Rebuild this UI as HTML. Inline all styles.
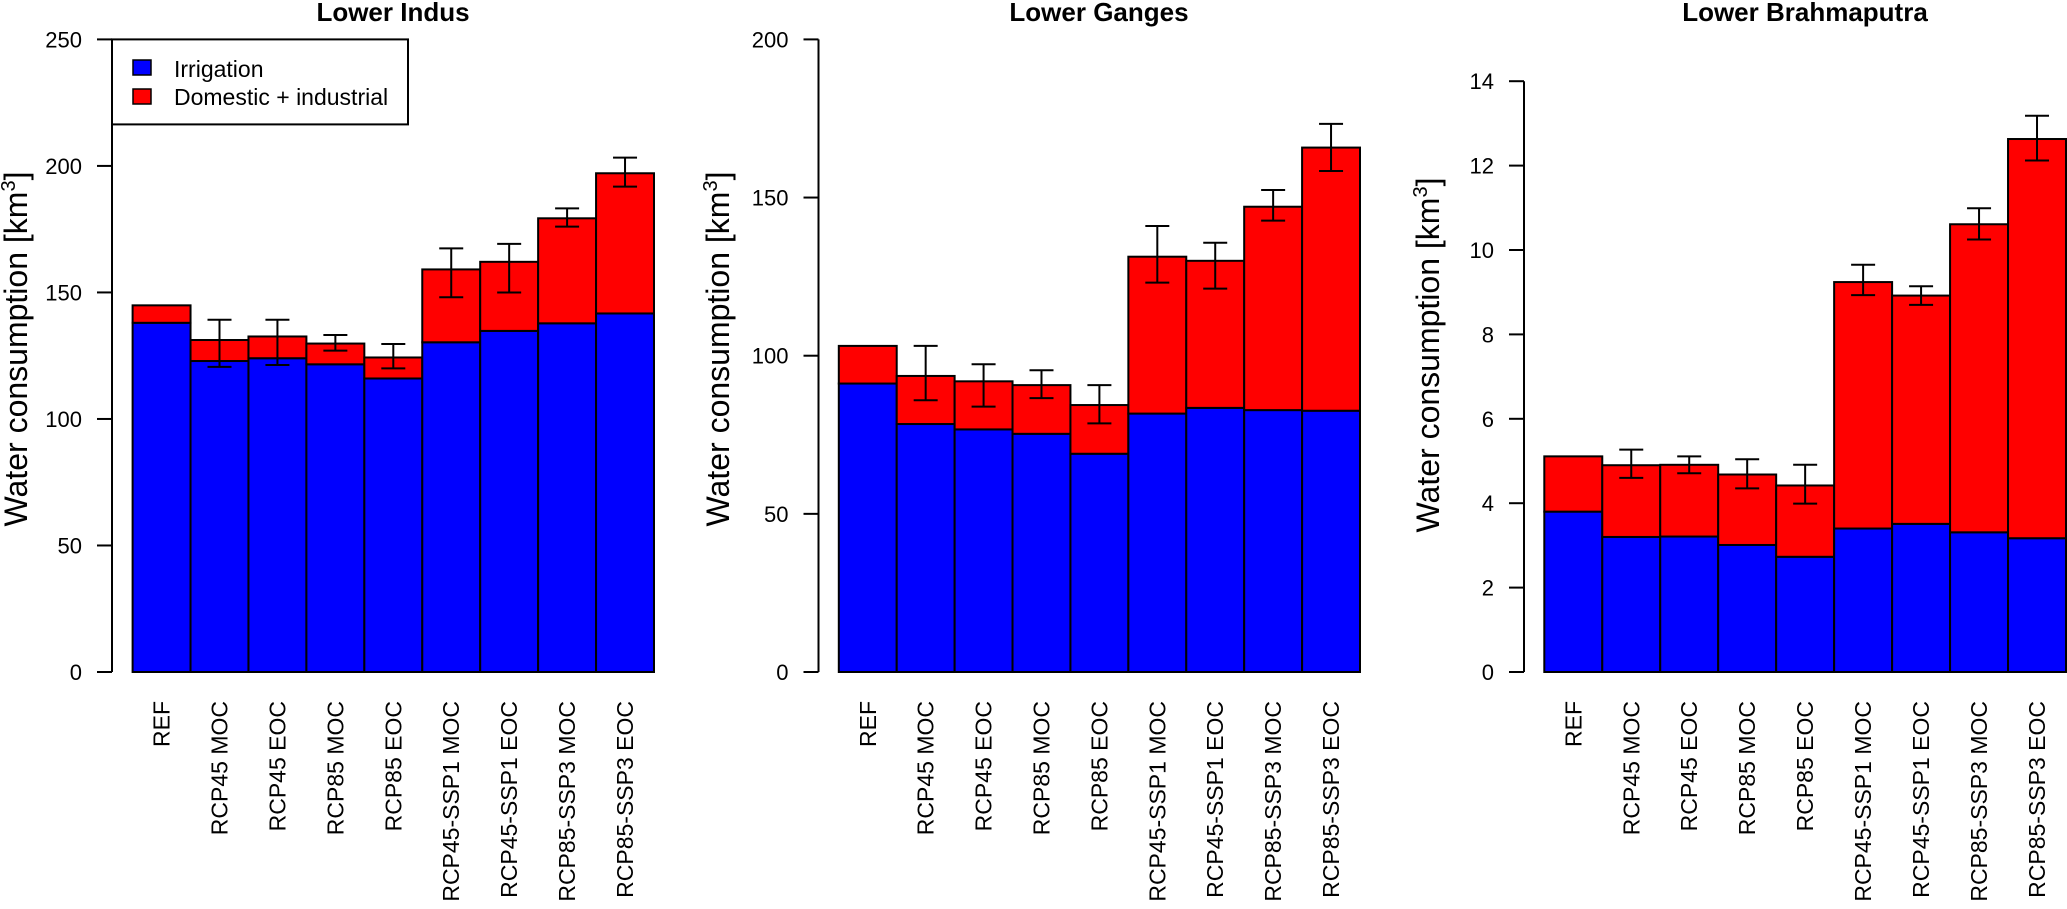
<!DOCTYPE html>
<html><head><meta charset="utf-8"><style>
html,body{margin:0;padding:0;background:#fff;}
svg{display:block;font-family:"Liberation Sans",Arial,sans-serif;}
</style></head><body>
<svg id="chart" width="2067" height="909" viewBox="0 0 2067 909"></svg>
<script>
const categories = ["REF","RCP45 MOC","RCP45 EOC","RCP85 MOC","RCP85 EOC","RCP45-SSP1 MOC","RCP45-SSP1 EOC","RCP85-SSP3 MOC","RCP85-SSP3 EOC"];
const indusIrr = [138,122.9,124,121.6,116,130.3,134.8,137.8,141.7];
const indusTot = [144.9,131.2,132.6,129.8,124.3,159.1,162.1,179.3,197.1];
const indusErrHi = [null,139.2,139.2,133.2,129.6,167.4,169.2,183.2,203.3];
const indusErrLo = [null,120.6,121.3,127,120,148.1,150,176,191.8];
const indusTicks = [0,50,100,150,200,250];
const gangesIrr = [91.2,78.4,76.7,75.3,69.0,81.7,83.5,82.8,82.6];
const gangesTot = [103.1,93.6,91.9,90.7,84.4,131.3,130.0,147.1,165.8];
const gangesErrHi = [null,103.1,97.3,95.4,90.7,141.0,135.7,152.4,173.3];
const gangesErrLo = [null,85.9,83.9,86.6,78.6,123.1,121.2,142.7,158.4];
const gangesTicks = [0,50,100,150,200];
const brahIrr = [3.80,3.20,3.21,3.01,2.73,3.40,3.51,3.31,3.17];
const brahTot = [5.11,4.90,4.91,4.68,4.42,9.24,8.92,10.61,12.63];
const brahErrHi = [null,5.27,5.11,5.04,4.91,9.65,9.14,10.99,13.18];
const brahErrLo = [null,4.60,4.71,4.35,3.99,8.93,8.70,10.25,12.12];
const brahTicks = [0,2,4,6,8,10,12,14];

const NS="http://www.w3.org/2000/svg";
const svg=document.getElementById('chart');
function mk(tag,attrs,parent){const e=document.createElementNS(NS,tag);for(const k in attrs)e.setAttribute(k,attrs[k]);(parent||svg).appendChild(e);return e;}

function panel(cfg){
  const g=mk('g',{});
  
  
  const y=v=>cfg.y0-(v/cfg.max)*(cfg.y0-cfg.yTop);
  const bw=(cfg.barsR-cfg.barsL)/categories.length;
  const x=i=>cfg.barsL+i*bw;
  // title
  const t=mk('text',{x:cfg.titleX,y:21,'text-anchor':'middle','font-size':26,'font-weight':'bold'},g);
  t.textContent=cfg.title;
  
  
  // y axis
  const ax=mk('line',{x1:cfg.axisX,x2:cfg.axisX,y1:y(cfg.ticks[0]),y2:y(cfg.ticks[cfg.ticks.length-1]),stroke:'#000','stroke-width':2},g);
  
  
  cfg.ticks.forEach(v=>{
    mk('line',{x1:cfg.axisX-15,x2:cfg.axisX,y1:y(v),y2:y(v),stroke:'#000','stroke-width':2},g);
    const tl=mk('text',{x:cfg.axisX-30,y:y(v)+8,'text-anchor':'end','font-size':22},g);
    tl.textContent=v;
    
    
  });
  const yt=mk('text',{transform:`translate(${cfg.titleYX},${cfg.titleYY}) rotate(-90)`,'text-anchor':'middle','font-size':32},g);
  yt.innerHTML='Water consumption [km<tspan dy="-12" font-size="20">3</tspan><tspan dy="12">]</tspan>';
  
  
  categories.forEach((c,i)=>{
    const b=mk('rect',{x:x(i),y:y(cfg.irr[i]),width:bw,height:y(0)-y(cfg.irr[i]),fill:'#0000ff',stroke:'#000','stroke-width':2},g);
    
    
    const r=mk('rect',{x:x(i),y:y(cfg.tot[i]),width:bw,height:y(cfg.irr[i])-y(cfg.tot[i]),fill:'#ff0000',stroke:'#000','stroke-width':2},g);
    
    
    const cx=x(i)+bw/2;
    if(cfg.hi[i]!=null){
      const eb=mk('path',{d:`M${cx},${y(cfg.hi[i])}V${y(cfg.lo[i])}M${cx-12},${y(cfg.hi[i])}H${cx+12}M${cx-12},${y(cfg.lo[i])}H${cx+12}`,stroke:'#000','stroke-width':2,fill:'none'},g);
      
      
    }
    const xl=mk('text',{transform:`translate(${cx+8},701) rotate(-90)`,'text-anchor':'end','font-size':23},g);
    xl.textContent=c;
    
    
  });
}
panel({name:'panel-lower-indus',title:'Lower Indus',titleX:393,axisX:112,y0:672,yTop:39.4,max:250,ticks:indusTicks,barsL:132.6,barsR:654,irr:indusIrr,tot:indusTot,hi:indusErrHi,lo:indusErrLo,titleYX:27,titleYY:349});
panel({name:'panel-lower-ganges',title:'Lower Ganges',titleX:1099,axisX:818.5,y0:672,yTop:39.4,max:200,ticks:gangesTicks,barsL:838.8,barsR:1360,irr:gangesIrr,tot:gangesTot,hi:gangesErrHi,lo:gangesErrLo,titleYX:729,titleYY:349});
panel({name:'panel-lower-brahmaputra',title:'Lower Brahmaputra',titleX:1805,axisX:1524,y0:672,yTop:81.2,max:14,ticks:brahTicks,barsL:1544.3,barsR:2066,irr:brahIrr,tot:brahTot,hi:brahErrHi,lo:brahErrLo,titleYX:1439,titleYY:355});

// legend
const lg=mk('g',{});


mk('rect',{x:112,y:39.4,width:296,height:85,fill:'#fff',stroke:'#000','stroke-width':2},lg);
const s1=mk('rect',{x:133,y:60,width:18,height:15,fill:'#0000ff',stroke:'#000','stroke-width':1.5},lg);


const l1=mk('text',{x:174,y:77,'font-size':23},lg);l1.textContent='Irrigation';


const s2=mk('rect',{x:133,y:89,width:18,height:15,fill:'#ff0000',stroke:'#000','stroke-width':1.5},lg);


const l2=mk('text',{x:174,y:105,'font-size':23},lg);l2.textContent='Domestic + industrial';


</script>
</body></html>
